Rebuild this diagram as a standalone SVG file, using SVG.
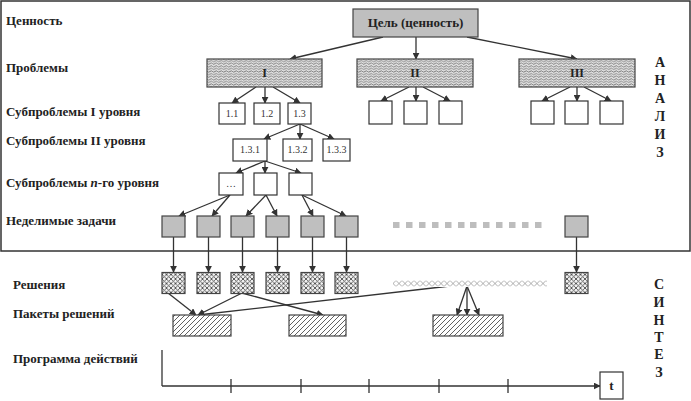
<svg xmlns="http://www.w3.org/2000/svg" width="691" height="401" viewBox="0 0 691 401">
<style>
.lbl{font-family:"Liberation Serif","Times New Roman",serif;font-weight:bold;font-size:13px;fill:#222}
.side{font-family:"Liberation Serif","Times New Roman",serif;font-weight:bold;font-size:14px;fill:#222;text-anchor:middle}
.num{font-family:"Liberation Serif","Times New Roman",serif;font-size:10px;fill:#333;text-anchor:middle}
.rom{font-family:"Liberation Serif","Times New Roman",serif;font-weight:bold;font-size:12px;fill:#222;text-anchor:middle}
.box{fill:#fff;stroke:#333;stroke-width:1.2}
.gray{fill:#bfbfbf;stroke:#444;stroke-width:1.2}
.prob{fill:url(#wave);stroke:#444;stroke-width:1.2}
.sol{fill:url(#cross);stroke:#444;stroke-width:1.2}
.pack{fill:url(#diag);stroke:#444;stroke-width:1.2}
.dot{fill:#bdbdbd}
.ln{stroke:#333;stroke-width:1.3;fill:none}
.ar{stroke:#333;stroke-width:1.3;fill:none;marker-end:url(#ah)}
</style>
<defs>
<marker id="ah" viewBox="0 0 10 10" refX="9" refY="5" markerWidth="7" markerHeight="7" markerUnits="userSpaceOnUse" orient="auto">
<path d="M0,0 L10,5 L0,10 z" fill="#333"/>
</marker>
<pattern id="wave" patternUnits="userSpaceOnUse" width="5" height="2.6">
<rect width="5" height="2.6" fill="#e2e2e2"/>
<path d="M0,1.3 Q1.25,0 2.5,1.3 T5,1.3" stroke="#555" stroke-width="0.75" fill="none"/>
</pattern>
<pattern id="cross" patternUnits="userSpaceOnUse" width="4.5" height="4.5">
<rect width="4.5" height="4.5" fill="#f4f4f4"/>
<path d="M0,0 L4.5,4.5 M4.5,0 L0,4.5" stroke="#444" stroke-width="0.85"/>
</pattern>
<pattern id="diag" patternUnits="userSpaceOnUse" width="5" height="5">
<rect width="5" height="5" fill="#fff"/>
<path d="M-1,6 L6,-1 M-1,1 L1,-1 M4,6 L6,4" stroke="#444" stroke-width="0.85"/>
</pattern>
<pattern id="band" patternUnits="userSpaceOnUse" width="6" height="7" y="280">
<rect width="6" height="7" fill="#fff"/>
<path d="M0,0.5 L6,6.5 M6,0.5 L0,6.5" stroke="#999" stroke-width="0.8"/>
</pattern>
</defs>

<rect id="frame" x="1" y="1" width="689" height="250" fill="none" stroke="#333" stroke-width="1.5"/>

<g id="labels">
<text class="lbl" x="6" y="25">Ценность</text>
<text class="lbl" x="6" y="72">Проблемы</text>
<text class="lbl" x="6" y="116">Субпроблемы I уровня</text>
<text class="lbl" x="6" y="145">Субпроблемы II уровня</text>
<text class="lbl" x="6" y="187">Субпроблемы <tspan font-style="italic">n</tspan>-го уровня</text>
<text class="lbl" x="6" y="225">Неделимые задачи</text>
<text class="lbl" x="13" y="289">Решения</text>
<text class="lbl" x="13" y="318">Пакеты решений</text>
<text class="lbl" x="13" y="363">Программа действий</text>
</g>

<g id="side-analysis">
<text class="side" x="660" y="67">А</text>
<text class="side" x="660" y="85">Н</text>
<text class="side" x="660" y="103">А</text>
<text class="side" x="660" y="121">Л</text>
<text class="side" x="660" y="139">И</text>
<text class="side" x="660" y="157">З</text>
</g>
<g id="side-synthesis">
<text class="side" x="659" y="289">С</text>
<text class="side" x="659" y="307">И</text>
<text class="side" x="659" y="325">Н</text>
<text class="side" x="659" y="342">Т</text>
<text class="side" x="659" y="359">Е</text>
<text class="side" x="659" y="377">З</text>
</g>

<g id="connectors">
<path class="ar" d="M383,37 L290,59"/>
<path class="ar" d="M416,37 L416,59"/>
<path class="ar" d="M467,37 L577,59"/>
<path class="ar" d="M256,87 L232,103"/>
<path class="ar" d="M265,87 L265,103"/>
<path class="ar" d="M273,87 L300,103"/>
<path class="ar" d="M409,87 L381,101"/>
<path class="ar" d="M416,87 L416,101"/>
<path class="ar" d="M423,87 L450,101"/>
<path class="ar" d="M570,87 L542,101"/>
<path class="ar" d="M577,87 L577,101"/>
<path class="ar" d="M584,87 L611,101"/>
<path class="ar" d="M300,124 L264,139"/>
<path class="ar" d="M300,124 L300,139"/>
<path class="ar" d="M300,124 L334,139"/>
<path class="ar" d="M265,161 L236,173"/>
<path class="ar" d="M265,161 L265,173"/>
<path class="ar" d="M265,161 L301,173"/>
<path class="ar" d="M230,195 L179,216"/>
<path class="ar" d="M230,195 L212,216"/>
<path class="ar" d="M266,195 L246,216"/>
<path class="ar" d="M266,195 L277,216"/>
<path class="ar" d="M302,195 L313,216"/>
<path class="ar" d="M302,195 L346,216"/>
<path class="ar" d="M173.5,237 L173.5,272"/>
<path class="ar" d="M208.5,237 L208.5,272"/>
<path class="ar" d="M242.5,237 L242.5,272"/>
<path class="ar" d="M277.5,237 L277.5,272"/>
<path class="ar" d="M312.5,237 L312.5,272"/>
<path class="ar" d="M346.5,237 L346.5,272"/>
<path class="ar" d="M576.5,237 L576.5,272"/>
<path class="ar" d="M168,293 L196,315"/>
<path class="ar" d="M242,293 L198,315"/>
<path class="ar" d="M242,293 L323,315"/>
<path class="ar" d="M450,286 L198,315"/>
<path class="ar" d="M467,286 L457,315"/>
<path class="ar" d="M467,286 L467,315"/>
<path class="ar" d="M467,286 L479,315"/>
<path class="ln" d="M162,350 L162,386"/>
<path class="ar" d="M162,386 L600,386"/>
<path class="ln" d="M231,379 V393 M301,379 V393 M369,379 V393 M439,379 V393 M508,379 V393"/>
</g>

<g id="goal"><rect class="gray" x="353" y="9" width="125" height="28"/><text class="lbl" x="415.5" y="27" text-anchor="middle">Цель (ценность)</text></g>

<g id="problem-I"><rect class="prob" x="207" y="59" width="115" height="28"/><text class="rom" x="264.5" y="77">I</text></g>
<g id="problem-II"><rect class="prob" x="357" y="59" width="116" height="28"/><text class="rom" x="415" y="77">II</text></g>
<g id="problem-III"><rect class="prob" x="519" y="59" width="116" height="28"/><text class="rom" x="577" y="77">III</text></g>

<g id="sub-1-1"><rect class="box" x="219" y="103" width="26" height="21"/><text class="num" x="232" y="117">1.1</text></g>
<g id="sub-1-2"><rect class="box" x="254" y="103" width="26" height="21"/><text class="num" x="267" y="117">1.2</text></g>
<g id="sub-1-3"><rect class="box" x="288" y="103" width="23" height="21"/><text class="num" x="299.5" y="117">1.3</text></g>

<g id="sub-2-1"><rect class="box" x="369" y="101" width="23" height="23"/></g>
<g id="sub-2-2"><rect class="box" x="404" y="101" width="23" height="23"/></g>
<g id="sub-2-3"><rect class="box" x="439" y="101" width="23" height="23"/></g>
<g id="sub-3-1"><rect class="box" x="531" y="101" width="23" height="23"/></g>
<g id="sub-3-2"><rect class="box" x="565" y="101" width="23" height="23"/></g>
<g id="sub-3-3"><rect class="box" x="600" y="101" width="23" height="23"/></g>

<g id="sub-1-3-1"><rect class="box" x="233" y="139" width="34" height="22"/><text class="num" x="250" y="153">1.3.1</text></g>
<g id="sub-1-3-2"><rect class="box" x="283" y="139" width="29" height="22"/><text class="num" x="297.5" y="153">1.3.2</text></g>
<g id="sub-1-3-3"><rect class="box" x="323" y="139" width="27" height="22"/><text class="num" x="336.5" y="153">1.3.3</text></g>

<g id="subn-1"><rect class="box" x="219" y="173" width="24" height="22"/><text class="num" x="231" y="187">…</text></g>
<g id="subn-2"><rect class="box" x="254" y="173" width="23" height="22"/></g>
<g id="subn-3"><rect class="box" x="289" y="173" width="23" height="22"/></g>

<g id="task-1"><rect class="gray" x="162" y="216" width="23" height="21"/></g>
<g id="task-2"><rect class="gray" x="197" y="216" width="23" height="21"/></g>
<g id="task-3"><rect class="gray" x="231" y="216" width="23" height="21"/></g>
<g id="task-4"><rect class="gray" x="266" y="216" width="23" height="21"/></g>
<g id="task-5"><rect class="gray" x="301" y="216" width="23" height="21"/></g>
<g id="task-6"><rect class="gray" x="335" y="216" width="23" height="21"/></g>
<g id="task-last"><rect class="gray" x="565" y="216" width="23" height="21"/></g>

<g id="task-dots">
<rect class="dot" x="393" y="222" width="6.5" height="6"/>
<rect class="dot" x="406" y="222" width="6.5" height="6"/>
<rect class="dot" x="419" y="222" width="6.5" height="6"/>
<rect class="dot" x="432" y="222" width="6.5" height="6"/>
<rect class="dot" x="445" y="222" width="6.5" height="6"/>
<rect class="dot" x="458" y="222" width="6.5" height="6"/>
<rect class="dot" x="470" y="222" width="6.5" height="6"/>
<rect class="dot" x="483" y="222" width="6.5" height="6"/>
<rect class="dot" x="496" y="222" width="6.5" height="6"/>
<rect class="dot" x="509" y="222" width="6.5" height="6"/>
<rect class="dot" x="522" y="222" width="6.5" height="6"/>
<rect class="dot" x="535" y="222" width="6.5" height="6"/>
</g>

<g id="sol-1"><rect class="sol" x="162" y="272.5" width="23" height="21"/></g>
<g id="sol-2"><rect class="sol" x="197" y="272.5" width="23" height="21"/></g>
<g id="sol-3"><rect class="sol" x="231" y="272.5" width="23" height="21"/></g>
<g id="sol-4"><rect class="sol" x="266" y="272.5" width="23" height="21"/></g>
<g id="sol-5"><rect class="sol" x="301" y="272.5" width="23" height="21"/></g>
<g id="sol-6"><rect class="sol" x="335" y="272.5" width="23" height="21"/></g>
<g id="sol-last"><rect class="sol" x="565" y="272.5" width="23" height="21"/></g>
<g id="sol-band"><rect x="393" y="280" width="154" height="7" fill="url(#band)"/></g>

<g id="pack-1"><rect class="pack" x="173" y="315" width="58" height="21"/></g>
<g id="pack-2"><rect class="pack" x="289" y="315" width="57" height="21"/></g>
<g id="pack-3"><rect class="pack" x="433" y="315" width="70" height="21"/></g>

<g id="t-box"><rect class="box" x="600" y="372" width="23" height="27"/><text class="lbl" x="611.5" y="390" text-anchor="middle">t</text></g>
</svg>
